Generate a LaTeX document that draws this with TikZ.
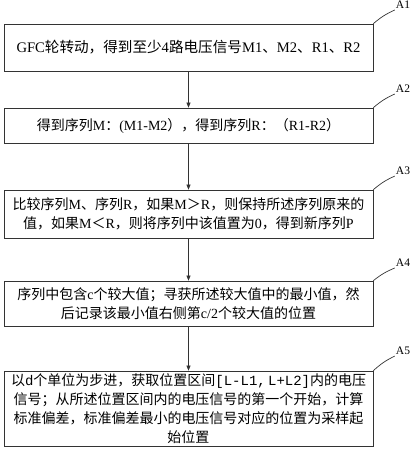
\documentclass[tikz,border=0pt]{standalone}
\usepackage{fontspec}
\setmainfont{Liberation Serif}
\setmonofont{Liberation Mono}
\newfontfamily\cjk{Noto Sans CJK SC}
\usepackage{tikz}
\usetikzlibrary{arrows.meta, positioning}
\newcommand{\en}[1]{{\rmfamily #1}}
\newcommand{\mono}[1]{{\ttfamily #1}}

\begin{document}
\begin{tikzpicture}[x=1pt, y=-1pt,
    box/.style={draw=black!80, line width=0.7pt, text width=355pt, inner xsep=7pt, inner ysep=2pt,
        align=center, font=\cjk\fontsize{14}{19}\selectfont},
    lab/.style={font=\fontsize{11.5}{11.5}\selectfont, inner sep=1pt},
    arr/.style={draw=black!80, line width=0.6pt, -{Triangle[length=5pt,width=4pt]}},
    lead/.style={draw=black!80, line width=0.7pt}]
    \useasboundingbox (0,0) rectangle (410,450);

    \node[box, minimum height=47pt, font=\cjk\fontsize{14.6}{19}\selectfont] (A1) at (188.5,47.5) {\en{GFC}轮转动，得到至少\en{4}路电压信号\en{M1}、\en{M2}、\en{R1}、\en{R2}};
    \node[box, minimum height=35pt] (A2) at (188.5,125.5) {得到序列\en{M}：\en{(M1-M2}），得到序列\en{R}：（\en{R1-R2}）};
    \node[box, minimum height=48pt] (A3) at (188.5,214) {比较序列\en{M}、序列\en{R}，如果\en{M}＞\en{R}，则保持所述序列原来的\\值，如果\en{M}＜\en{R}，则将序列中该值置为\en{0}，得到新序列\en{P}};
    \node[box, minimum height=45pt] (A4) at (188.5,303.5) {序列中包含\en{c}个较大值；寻获所述较大值中的最小值，然\\后记录该最小值右侧第\en{c/2}个较大值的位置};
    \node[box, minimum height=75pt] (A5) at (188.5,408.5) {以\mono{d}个单位为步进，获取位置区间\mono{[L-L1,\,L+L2]}内的电压\\信号；从所述位置区间内的电压信号的第一个开始，计算\\标准偏差，标准偏差最小的电压信号对应的位置为采样起\\始位置};

    \node[lab] (L1) at (403,5) {A1};
    \node[lab] (L2) at (403,89) {A2};
    \node[lab] (L3) at (403,171) {A3};
    \node[lab] (L4) at (403,263) {A4};
    \node[lab] (L5) at (403,351) {A5};

    \draw[arr] (A1) -- (A2);
    \draw[arr] (A2) -- (A3);
    \draw[arr] (A3) -- (A4);
    \draw[arr] (A4) -- (A5);

    \draw[lead] (A1.north east) to[bend left=8] (L1.south west);
    \draw[lead] (A2.north east) to[bend left=8] (L2.south west);
    \draw[lead] (A3.north east) to[bend left=8] (L3.south west);
    \draw[lead] (A4.north east) to[bend left=8] (L4.south west);
    \draw[lead] (A5.north east) to[bend left=8] (L5.south west);
\end{tikzpicture}
\end{document}
